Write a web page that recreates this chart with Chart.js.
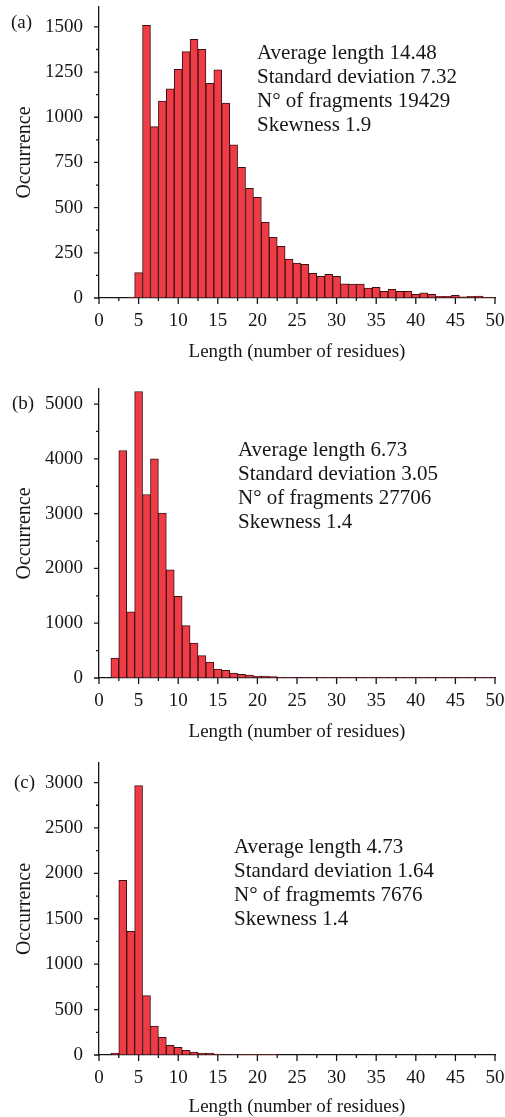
<!DOCTYPE html>
<html>
<head>
<meta charset="utf-8">
<script src="https://cdn.jsdelivr.net/npm/chart.js@4"></script>
<style>
  html, body { margin: 0; padding: 0; background: #fff; overflow: hidden; }
  body { width: 505px; height: 1117px; position: relative; }
  canvas { position: absolute; left: 0; }
</style>
</head>
<body>
<canvas id="chart-a" width="505" height="372" style="top:0px"></canvas>
<canvas id="chart-b" width="505" height="380" style="top:372px"></canvas>
<canvas id="chart-c" width="505" height="375" style="top:752px"></canvas>
<script>
// fragment length (number of residues), one bar per length
const lengths = [1, 2, 3, 4, 5, 6, 7, 8, 9, 10, 11, 12, 13, 14, 15, 16, 17, 18, 19, 20,
  21, 22, 23, 24, 25, 26, 27, 28, 29, 30, 31, 32, 33, 34, 35, 36, 37, 38, 39, 40,
  41, 42, 43, 44, 45, 46, 47, 48, 49, 50];

// occurrences
const countsA = [0, 0, 0, 5, 140, 1509, 948, 1090, 1157, 1265, 1363, 1431, 1376, 1188, 1262, 1079, 847, 723, 607, 557,
  419, 336, 286, 216, 193, 186, 137, 120, 131, 120, 79, 77, 77, 55, 59, 37, 48, 37, 37, 20,
  29, 20, 9, 9, 15, 7, 9, 11, 4, 4];
const countsB = [0, 365, 4153, 1210, 5230, 3350, 4000, 3010, 1976, 1489, 955, 639, 407, 290, 164, 139, 91, 66, 55, 36,
  33, 24, 15, 12, 10, 8, 7, 6, 5, 5, 5, 4, 4, 4, 3, 3, 3, 3, 2, 2,
  2, 2, 3, 2, 1, 1, 1, 1, 1, 1];
const countsC = [0, 20, 1924, 1362, 2966, 653, 318, 195, 107, 85, 52, 33, 22, 22, 10, 6, 5, 5, 2, 1,
  1, 1, 0, 0, 0, 0, 0, 0, 0, 0, 0, 0, 0, 0, 0, 0, 0, 0, 0, 0,
  0, 0, 0, 0, 0, 0, 0, 0, 0, 0];

const statsA = ['Average length 14.48', 'Standard deviation 7.32', 'N\u00b0 of fragments 19429', 'Skewness 1.9'];
const statsB = ['Average length 6.73', 'Standard deviation 3.05', 'N\u00b0 of fragments 27706', 'Skewness 1.4'];
const statsC = ['Average length 4.73', 'Standard deviation 1.64', 'N\u00b0 of fragmemts 7676', 'Skewness 1.4'];

const SERIF = "'Liberation Serif', 'Times New Roman', serif";
const INK = '#161616';
Chart.defaults.font.family = SERIF;
Chart.defaults.color = INK;

const isMultiple = (v, step) => Math.abs(v / step - Math.round(v / step)) < 1e-6;

// ticks every `step` from 0 up to the axis top (chart.js spreads them evenly otherwise)
function stepTicks(step) {
  return s => {
    const out = [];
    for (let k = 0; k * step <= s.max + 1e-9; k++) out.push({ value: k * step });
    s.ticks = out;
  };
}

// short minor ticks, longer major (labelled) ticks, drawn outside the axes
const tickMarks = {
  id: 'tickMarks',
  afterDraw(chart) {
    const ctx = chart.ctx;
    const xs = chart.scales.x, ys = chart.scales.y;
    ctx.save();
    ctx.strokeStyle = INK;
    ctx.lineWidth = 1.3;
    ctx.beginPath();
    xs.ticks.forEach(t => {
      const px = xs.getPixelForValue(t.value);
      const len = t.label === '' ? 3 : 6;
      ctx.moveTo(px, ys.bottom);
      ctx.lineTo(px, ys.bottom + len);
    });
    ys.ticks.forEach(t => {
      const py = ys.getPixelForValue(t.value);
      const len = t.label === '' ? 3 : 5;
      ctx.moveTo(xs.left, py);
      ctx.lineTo(xs.left - len, py);
    });
    ctx.stroke();
    ctx.restore();
  }
};

// panel letter and the statistics block
const notes = {
  id: 'notes',
  afterDraw(chart, args, opts) {
    const ctx = chart.ctx;
    ctx.save();
    ctx.fillStyle = INK;
    ctx.textBaseline = 'middle';
    ctx.textAlign = 'left';
    ctx.font = '19px ' + SERIF;
    ctx.fillText(opts.letter, opts.letterX, opts.letterY);
    ctx.font = '21px ' + SERIF;
    opts.lines.forEach((s, i) => ctx.fillText(s, opts.x, opts.y + i * 24));
    ctx.restore();
  }
};

function makePanel(id, counts, yMax, yStep, axisBottom, note) {
  const canvas = document.getElementById(id);
  return new Chart(canvas, {
    type: 'bar',
    data: {
      datasets: [{
        data: lengths.map((l, i) => ({ x: l, y: counts[i] })),
        backgroundColor: '#ee3b45',
        borderColor: '#3a1212',
        borderWidth: 1,
        borderSkipped: 'bottom',
        categoryPercentage: 1,
        barPercentage: 1,
      }],
    },
    options: {
      responsive: false,
      animation: false,
      events: [],
      layout: { padding: { top: note.plotTop, right: 10, left: 0, bottom: 0 } },
      plugins: {
        legend: { display: false },
        tooltip: { enabled: false },
        notes: note,
      },
      scales: {
        x: {
          type: 'linear',
          min: 0,
          max: 50,
          offset: false,
          grid: { display: true, offset: false, drawOnChartArea: false, drawTicks: false },
          border: { display: true, color: INK, width: 1.3 },
          afterBuildTicks: stepTicks(2.5),
          ticks: {
            autoSkip: false,
            maxRotation: 0,
            padding: 12,
            font: { size: 19 },
            callback: v => (isMultiple(v, 5) ? Math.round(v) : ''),
          },
          title: {
            display: true,
            text: 'Length (number of residues)',
            font: { size: 19 },
            padding: { top: 0, bottom: 8.6 },
          },
          afterFit: s => { s.height = axisBottom; s.paddingLeft = 0; s.paddingRight = 0; },
        },
        y: {
          min: 0,
          max: yMax,
          grid: { display: true, drawOnChartArea: false, drawTicks: false },
          border: { display: true, color: INK, width: 1.3 },
          afterBuildTicks: stepTicks(yStep),
          ticks: {
            autoSkip: false,
            padding: 16,
            font: { size: 19 },
            callback: v => (isMultiple(v, 2 * yStep) ? Math.round(v) : ''),
          },
          title: {
            display: true,
            text: 'Occurrence',
            font: { size: 20 },
            padding: { top: 13, bottom: 0 },
          },
          afterFit: s => { s.width = 99; s.paddingTop = 0; s.paddingBottom = 0; },
        },
      },
    },
    plugins: [tickMarks, notes],
  });
}

makePanel('chart-a', countsA, 1610, 125, 74,
  { plotTop: 7, letter: '(a)', letterX: 11, letterY: 23, lines: statsA, x: 257, y: 53 });
makePanel('chart-b', countsB, 5275, 500, 74,
  { plotTop: 17, letter: '(b)', letterX: 12, letterY: 32, lines: statsB, x: 238, y: 78 });
makePanel('chart-c', countsC, 3215, 250, 72,
  { plotTop: 11, letter: '(c)', letterX: 14, letterY: 31, lines: statsC, x: 234, y: 95 });
</script>
</body>
</html>
